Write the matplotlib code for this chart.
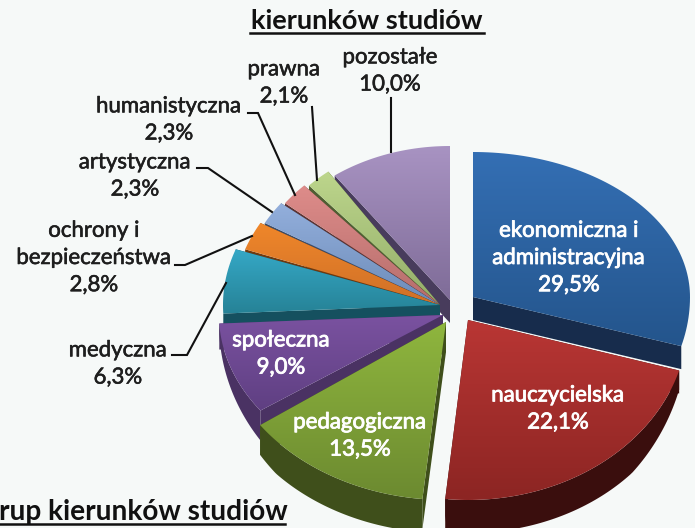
import numpy as np
import matplotlib
matplotlib.use('Agg')
import matplotlib.pyplot as plt
from matplotlib.patches import Polygon
import matplotlib.patheffects as pe

plt.rcParams['font.family'] = ['Lato', 'DejaVu Sans']

# data
categories = ['ekonomiczna i\nadministracyjna', 'nauczycielska', 'pedagogiczna', 'społeczna', 'medyczna',
              'ochrony i\nbezpieczeństwa', 'artystyczna', 'humanistyczna', 'prawna', 'pozostałe']
values = [29.5, 22.1, 13.5, 9.0, 6.3, 2.8, 2.3, 2.3, 2.1, 10.0]
title_text = 'kierunków studiów'
cut_text = 'rup kierunków studiów'

# slice styling: (top colour, bottom colour, side colour)
colors = [('#346fb4', '#24558c', '#172c4c'),
          ('#b93634', '#8c2523', '#3a0e0d'),
          ('#8fb63e', '#6c8a30', '#3f4f1b'),
          ('#7a52a0', '#5f3f82', '#4a3263'),
          ('#35a8c6', '#268296', '#15505f'),
          ('#f0872a', '#cf7028', '#6e3a10'),
          ('#93afdc', '#6c8bb8', '#3c4c68'),
          ('#de8c8a', '#b56d6b', '#5c3332'),
          ('#bdd68c', '#93ad69', '#4f5f32'),
          ('#a893c2', '#7f6c98', '#483c5c')]

# pie geometry in picture pixels, explosion is per slice
cx, cy = 442, 312
dx = [31, 26, 4, 1, -2, -2, -2, -2, -2, 8]
dy = [-15, 8, 10, 3, -7, -7, -7, -7, -7, -12]
rx = [217, 220, 228, 224, 217, 207, 202, 197, 190, 196]
ry_back = [145, 145, 165, 165, 165, 165, 165, 165, 165, 154]
ry_front = [175, 180, 178, 165, 165, 165, 165, 165, 165, 154]
wall = [23, 23, 30, 26, 23, 23, 23, 23, 23, 23]

draw_order = [9, 8, 7, 6, 5, 4, 3, 0, 2, 1]

inside_pos = {0: (569, 258), 1: (558, 409), 2: (360, 436), 3: (281, 354)}
outside_pos = {4: (118, 364), 5: (94, 258), 6: (135, 176), 7: (169, 120), 8: (284, 83), 9: (390, 71)}

leaders = [[(172, 355), (187, 355), (226, 283)],
           [(175, 265), (185, 265), (252, 236)],
           [(197, 168), (208, 168), (272, 212)],
           [(248, 113), (258, 113), (295, 195)],
           [(312, 107), (317, 180)],
           [(391, 98), (391, 152)]]


def rim(i, t):
    ry = np.where(np.cos(t) >= 0, ry_back[i], ry_front[i])
    x = cx + dx[i] + rx[i] * np.sin(t)
    y = cy + dy[i] - ry * np.cos(t)
    return x, y


def gradient_fill(ax, pts, c_top, c_bottom, z):
    c0 = np.array(matplotlib.colors.to_rgb(c_top))
    c1 = np.array(matplotlib.colors.to_rgb(c_bottom))
    f = np.linspace(0, 1, 128)[:, None, None]
    img = (1 - f) * c0[None, None, :] + f * c1[None, None, :]
    x0, x1 = pts[:, 0].min(), pts[:, 0].max()
    y0, y1 = pts[:, 1].min(), pts[:, 1].max()
    im = ax.imshow(img, extent=(x0, x1, y1, y0), aspect='auto', zorder=z, interpolation='bilinear')
    patch = Polygon(pts, closed=True, transform=ax.transData, facecolor='none', edgecolor='none')
    ax.add_patch(patch)
    im.set_clip_path(patch)


fig = plt.figure(figsize=(6.95, 5.28), dpi=100, facecolor='#f6f9f8')
ax = fig.add_axes([0, 0, 1, 1])
ax.set_facecolor('#f6f9f8')

# slice angles come from the values
edges = np.radians(np.concatenate([[0], np.cumsum(values) / np.sum(values) * 360]))

z = 2
for i in draw_order:
    t = np.linspace(edges[i], edges[i + 1], 80)
    x, y = rim(i, t)
    ax_, ay_ = cx + dx[i], cy + dy[i]
    # outer side, thinner towards the right
    if i in (1, 2, 3):
        d = 30 * np.clip(0.3 - 1.2 * np.cos(t), 0, 1.1)
        side = np.column_stack([np.r_[x, x[::-1]], np.r_[y, (y + d)[::-1]]])
        ax.fill(side[:, 0], side[:, 1], color=colors[i][2], zorder=z, lw=0)
    # radial walls
    w = wall[i]
    for px, py in ((x[0], y[0]), (x[-1], y[-1])):
        ax.fill([ax_, px, px, ax_], [ay_, py, py + w, ay_ + w], color=colors[i][2], zorder=z, lw=0)
    z += 1
    top = np.column_stack([np.r_[ax_, x], np.r_[ay_, y]])
    gradient_fill(ax, top, colors[i][0], colors[i][1], z)
    z += 1

dark_effect = [pe.withStroke(linewidth=0.4, foreground='#1e1e1e')]
light_effect = [pe.withStroke(linewidth=0.6, foreground='white')]

for i, (px, py) in inside_pos.items():
    ax.text(px, py, f"{categories[i]}\n{values[i]:.1f}%".replace('.', ','), color='white', fontsize=16,
            ha='center', va='center', linespacing=1.45, zorder=50, path_effects=light_effect)
for i, (px, py) in outside_pos.items():
    ax.text(px, py, f"{categories[i]}\n{values[i]:.1f}%".replace('.', ','), color='#1e1e1e', fontsize=16,
            ha='center', va='center', linespacing=1.45, zorder=50, path_effects=dark_effect)

for line in leaders:
    xs, ys = zip(*line)
    ax.plot(xs, ys, color='#111111', lw=1.5, zorder=40, solid_joinstyle='miter')

ax.text(367, 21, title_text, fontsize=19.5, fontweight='bold', color='#111111', ha='center', va='center', zorder=50)
ax.plot([250, 484], [32.5, 32.5], color='#111111', lw=1.8, zorder=50)
ax.text(-1, 512, cut_text, fontsize=20.2, fontweight='bold', color='#111111', ha='left', va='center', zorder=50)
ax.plot([0, 285], [524, 524], color='#111111', lw=1.8, zorder=50)

ax.set_xlim(0, 695)
ax.set_ylim(528, 0)
ax.axis('off')

plt.savefig('out.png', dpi=100, facecolor=fig.get_facecolor())
